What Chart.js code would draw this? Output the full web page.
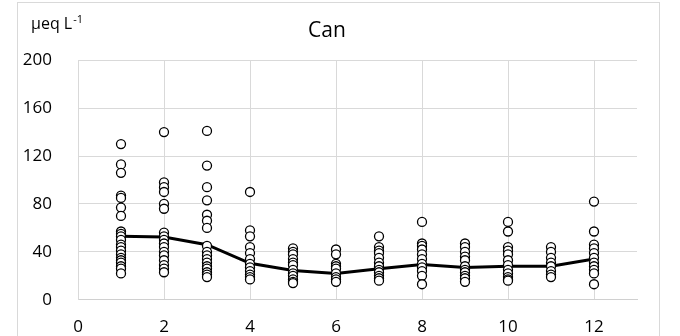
<!DOCTYPE html>
<html>
<head>
<meta charset="utf-8">
<script src="https://cdn.jsdelivr.net/npm/chart.js@4"></script>
<style>
  body { margin: 0; background: #fff; }
  #frame { position: absolute; left: 17px; top: 2px; width: 641px; height: 340px; border: 1px solid #d9d9d9; }
  #chart { position: absolute; left: 0; top: 0; }
</style>
</head>
<body>
<div id="frame"></div>
<canvas id="chart" width="680" height="336"></canvas>
<script>
const months = [1, 2, 3, 4, 5, 6, 7, 8, 9, 10, 11, 12];
const month1 = [130, 113, 106, 87, 85, 77, 70, 57, 55, 53, 50, 46, 44, 41, 38, 35, 33, 31, 28, 26, 22];
const month2 = [140, 98, 94, 90, 80, 76, 56, 53, 50, 47, 44, 40, 37, 33, 29, 26, 23];
const month3 = [141, 112, 94, 83, 71, 66, 60, 45, 40, 37, 34, 31, 28, 26, 23, 21, 19];
const month4 = [90, 58, 53, 44, 39, 34, 30, 27, 24, 21, 19, 17];
const month5 = [43, 40, 38, 34, 31, 29, 25, 22, 20, 17, 15, 14];
const month6 = [42, 38, 30, 28, 26, 22, 19, 17, 15];
const month7 = [53, 44, 41, 39, 35, 31, 28, 25, 23, 20, 18, 16];
const month8 = [65, 47, 45, 42, 38, 34, 30, 27, 24, 20, 13];
const month9 = [47, 44, 40, 36, 33, 28, 25, 23, 20, 18, 15];
const month10 = [65, 57, 44, 41, 38, 33, 29, 25, 22, 19, 17, 16];
const month11 = [44, 40, 35, 31, 28, 24, 21, 19];
const month12 = [82, 57, 46, 43, 39, 35, 31, 28, 25, 22, 13];
const means = [53, 52.5, 46, 30.5, 24.5, 22, 26, 29.5, 27, 28, 28, 34];

const title = 'Can';
const unitText = 'μeq L';
const unitSup = '-1';

const monthValues = [month1, month2, month3, month4, month5, month6, month7, month8, month9, month10, month11, month12];
const points = [];
monthValues.forEach(function (vals, i) {
    vals.forEach(function (v) { points.push({ x: months[i], y: v }); });
});

const fontFamily = '"Open Sans", sans-serif';

// unit label above the y axis
const unitLabel = {
    id: 'unitLabel',
    afterDraw: function (chart) {
        const ctx = chart.ctx;
        ctx.save();
        ctx.fillStyle = '#000';
        ctx.textBaseline = 'alphabetic';
        ctx.font = '16px ' + fontFamily;
        ctx.fillText(unitText, 31, 29);
        const w = ctx.measureText(unitText).width;
        ctx.font = '11px ' + fontFamily;
        ctx.fillText(unitSup, 31 + w + 1, 23);
        ctx.restore();
    }
};

new Chart(document.getElementById('chart').getContext('2d'), {
    type: 'scatter',
    data: {
        datasets: [{
            type: 'scatter',
            data: points,
            pointRadius: 4.5,
            pointBorderWidth: 1.3,
            pointBorderColor: '#000',
            pointBackgroundColor: '#fff',
            order: 0
        }, {
            type: 'line',
            data: months.map(function (m, i) { return { x: m, y: means[i] }; }),
            borderColor: '#000',
            borderWidth: 3,
            pointRadius: 0,
            tension: 0,
            order: 1
        }]
    },
    options: {
        responsive: false,
        animation: false,
        devicePixelRatio: 1,
        layout: { padding: { left: 17, right: 43, top: 4, bottom: 0 } },
        plugins: {
            legend: { display: false },
            tooltip: { enabled: false },
            title: {
                display: true,
                text: title,
                color: '#000',
                font: { family: fontFamily, size: 21, weight: 'normal' },
                padding: { top: 14, bottom: 17 }
            }
        },
        scales: {
            x: {
                type: 'linear',
                min: 0,
                max: 13,
                afterFit: function (scale) { scale.height = 33; },
                grid: { color: '#d9d9d9', drawTicks: false },
                border: { color: '#d0d0d0' },
                ticks: {
                    stepSize: 2,
                    includeBounds: false,
                    padding: 17,
                    color: '#000',
                    font: { family: fontFamily, size: 17 }
                }
            },
            y: {
                min: 0,
                max: 200,
                afterFit: function (scale) { scale.width = 61; },
                grid: { color: '#d9d9d9', drawTicks: false },
                border: { color: '#d9d9d9' },
                ticks: {
                    stepSize: 40,
                    padding: 26,
                    color: '#000',
                    font: { family: fontFamily, size: 17 }
                }
            }
        }
    },
    plugins: [unitLabel]
});
</script>
</body>
</html>
